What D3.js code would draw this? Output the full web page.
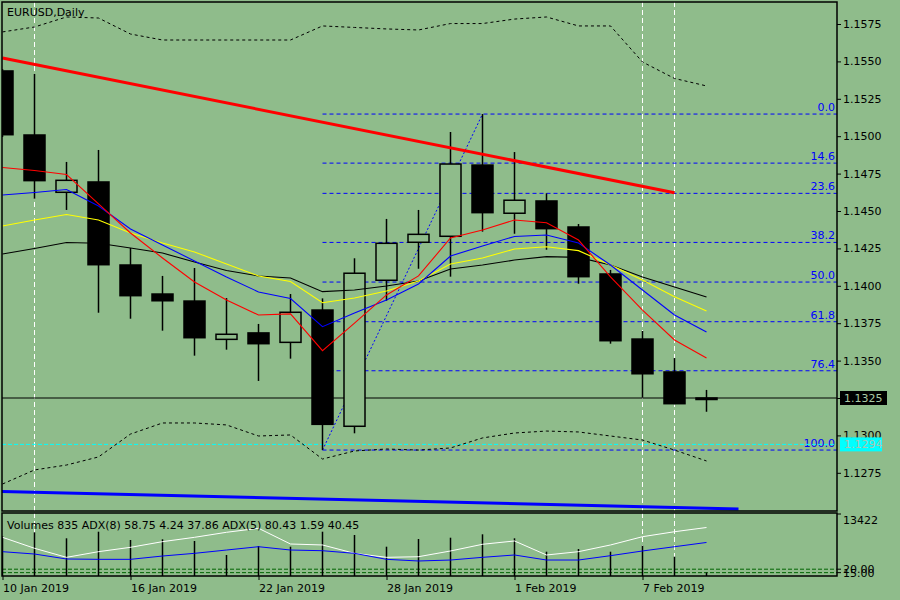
<!DOCTYPE html>
<html>
<head>
<meta charset="utf-8">
<script src="https://cdn.jsdelivr.net/npm/d3@7"></script>
<style>
  body { margin: 0; background: #8fbc8b; }
  svg text { font-family: "DejaVu Sans", sans-serif; font-size: 11px; }
</style>
</head>
<body>
<div id="chart"></div>
<script>
// EURUSD daily bars
const dates = ["10 Jan 2019","11 Jan 2019","14 Jan 2019","15 Jan 2019","16 Jan 2019","17 Jan 2019","18 Jan 2019",
  "21 Jan 2019","22 Jan 2019","23 Jan 2019","24 Jan 2019","25 Jan 2019","28 Jan 2019","29 Jan 2019","30 Jan 2019",
  "31 Jan 2019","1 Feb 2019","4 Feb 2019","5 Feb 2019","6 Feb 2019","7 Feb 2019","8 Feb 2019","11 Feb 2019"]
const open  = [1.15436,1.15008,1.14625,1.14694,1.14139,1.13945,1.13898,1.13642,1.13685,1.13622,1.13838,1.13061,
  1.14037,1.14291,1.14331,1.14807,1.14485,1.14567,1.14393,1.14079,1.13644,1.13424,1.13240]
const high  = [1.15450,1.15416,1.14828,1.14908,1.14253,1.14066,1.14119,1.13918,1.13745,1.13945,1.13916,1.14184,
  1.14447,1.14507,1.15028,1.15148,1.14894,1.14618,1.14413,1.14106,1.13698,1.13517,1.13304]
const low   = [1.14995,1.14582,1.14507,1.13820,1.13780,1.13700,1.13533,1.13573,1.13364,1.13513,1.12902,1.13014,
  1.13900,1.14114,1.14061,1.14362,1.14348,1.14241,1.14014,1.13613,1.13252,1.13208,1.13158]
const close = [1.15010,1.14703,1.14705,1.14141,1.13934,1.13900,1.13653,1.13676,1.13613,1.13823,1.13074,1.14084,
  1.14284,1.14344,1.14814,1.14489,1.14572,1.14382,1.14061,1.13633,1.13412,1.13212,1.13250]

// moving averages
const maRed    = [1.14791,1.14771,1.14744,1.14547,1.14353,1.14186,1.14025,1.13905,1.13805,1.13812,1.13566,1.13751,
  1.13939,1.14066,1.14320,1.14373,1.14440,1.14422,1.14306,1.14059,1.13838,1.13638,1.13517]
const maBlue   = [1.14607,1.14624,1.14644,1.14533,1.14380,1.14273,1.14166,1.14059,1.13959,1.13915,1.13727,1.13818,
  1.13905,1.14012,1.14199,1.14266,1.14330,1.14340,1.14286,1.14139,1.13972,1.13805,1.13691]
const maYellow = [1.14400,1.14440,1.14477,1.14440,1.14353,1.14286,1.14226,1.14146,1.14066,1.14029,1.13887,1.13918,
  1.13965,1.14032,1.14146,1.14186,1.14246,1.14261,1.14235,1.14139,1.14039,1.13927,1.13832]
const maBlack  = [1.14213,1.14249,1.14289,1.14284,1.14253,1.14219,1.14159,1.14102,1.14066,1.14052,1.13961,1.13972,
  1.13999,1.14032,1.14112,1.14139,1.14172,1.14195,1.14190,1.14139,1.14059,1.13992,1.13925]

// bollinger bands
const bandUpper = [1.15697,1.15730,1.15797,1.15790,1.15683,1.15643,1.15643,1.15643,1.15643,1.15643,1.15737,1.15727,
  1.15717,1.15710,1.15753,1.15753,1.15783,1.15797,1.15737,1.15737,1.15496,1.15386,1.15336]
const bandLower = [1.12675,1.12769,1.12802,1.12856,1.13009,1.13083,1.13083,1.13070,1.12996,1.13003,1.12842,1.12896,
  1.12909,1.12902,1.12916,1.12983,1.13016,1.13029,1.13023,1.12996,1.12969,1.12902,1.12829]

// indicator window
const volume  = [9500,10474,9036,10618,8628,8796,8389,5033,7190,7023,10618,9827,7023,8868,9180,9995,9036,5824,
  6471,5824,7262,4626,835]
const adxWhite = [66.2,50.3,37.2,45.4,51.7,59.9,66.2,73.5,79.3,56.5,55.1,43.0,37.2,38.1,46.4,56.1,60.9,40.6,45.4,
  55.1,67.1,74.3,80.43]
const adxBlue  = [45.4,42.0,34.8,34.3,34.3,39.1,43.0,47.8,52.6,47.8,46.8,43.0,34.3,31.9,33.3,37.2,40.6,33.3,33.3,
  39.6,46.4,52.6,58.75]
const adxLevels = [20, 15]

const priceTicks = [1.1575,1.1550,1.1525,1.1500,1.1475,1.1450,1.1425,1.1400,1.1375,1.1350,1.1325,1.1300,1.1275]
const dateTicks = [0,4,8,12,16,20]
const separators = [1,20,21]
const fibLevels = [0.0,14.6,23.6,38.2,50.0,61.8,76.4,100.0]
const fibFrom = {i:10, p:1.12902}
const fibTo   = {i:15, p:1.15148}
const redTrend  = [{i:0,p:1.15523},{i:21,p:1.14622}]
const blueTrend = [{i:-1,p:1.12630},{i:23,p:1.12508}]
const bid = 1.1325
const ask = 1.1294

var bg = "#8fbc8b"
var left = 2, right = 837, mainTop = 2, mainBottom = 511, subTop = 513, subBottom = 576

var svg = d3.select("#chart").append("svg").attr("width",900).attr("height",600)
svg.append("rect").attr("width",900).attr("height",600).attr("fill",bg)

var x = d3.scaleLinear().domain([0,22]).range([2.5,706.5])
var y = d3.scaleLinear().domain([1.1275,1.1575]).range([472.8,24])
var yVol = d3.scaleLinear().domain([0,13422]).range([subBottom,520])
var yAdx = d3.scaleLinear().domain([0,100]).range([583,514])

var defs = svg.append("defs")
defs.append("clipPath").attr("id","clipMain").append("rect")
  .attr("x",left).attr("y",mainTop).attr("width",right-left).attr("height",mainBottom-mainTop)
defs.append("clipPath").attr("id","clipSub").append("rect")
  .attr("x",left).attr("y",subTop).attr("width",right-left).attr("height",subBottom-subTop)

var g = svg.append("g").attr("clip-path","url(#clipMain)")
var gs = svg.append("g").attr("clip-path","url(#clipSub)")

// vertical white separators in both windows
g.selectAll(".sep").data(separators).enter().append("line")
  .attr("x1",d => x(d)).attr("x2",d => x(d)).attr("y1",mainTop).attr("y2",mainBottom)
  .attr("stroke","#fff").attr("stroke-dasharray","5,3")
gs.selectAll(".sep").data(separators).enter().append("line")
  .attr("x1",d => x(d)).attr("x2",d => x(d)).attr("y1",subTop).attr("y2",subBottom)
  .attr("stroke","#fff").attr("stroke-dasharray","5,3")

// fibo retracement
var fibPrice = lv => fibTo.p - (fibTo.p - fibFrom.p) * lv / 100
g.selectAll(".fib").data(fibLevels).enter().append("line")
  .attr("x1",x(fibFrom.i)).attr("x2",right).attr("y1",d => y(fibPrice(d))).attr("y2",d => y(fibPrice(d)))
  .attr("stroke","#0000ff").attr("stroke-dasharray","4,3")
g.append("line").attr("x1",x(fibFrom.i)).attr("y1",y(fibFrom.p)).attr("x2",x(fibTo.i)).attr("y2",y(fibTo.p))
  .attr("stroke","#0000ff").attr("stroke-dasharray","2,2")
g.selectAll(".fibText").data(fibLevels).enter().append("text")
  .attr("x",835).attr("y",d => y(fibPrice(d)) - 3).attr("text-anchor","end")
  .attr("fill","#0000ff").text(d => d.toFixed(1))

// bid / ask lines
g.append("line").attr("x1",left).attr("x2",right).attr("y1",y(ask)).attr("y2",y(ask))
  .attr("stroke","#00ffff").attr("stroke-dasharray","4,2")
g.append("line").attr("x1",left).attr("x2",right).attr("y1",y(bid)).attr("y2",y(bid))
  .attr("stroke","#000").attr("stroke-width",1.2)

// bollinger bands
function series(arr){ return d3.line().x((d,i) => x(i)).y(d => y(d))(arr) }
;[bandUpper, bandLower].forEach(b => {
  g.append("path").attr("d",series(b)).attr("fill","none")
    .attr("stroke","#000").attr("stroke-dasharray","3,3")
})

// candles
var idx = d3.range(dates.length)
g.selectAll(".wick").data(idx).enter().append("line")
  .attr("x1",i => x(i)).attr("x2",i => x(i)).attr("y1",i => y(high[i])).attr("y2",i => y(low[i]))
  .attr("stroke","#000").attr("stroke-width",1.5)
g.selectAll(".body").data(idx).enter().append("rect")
  .attr("x",i => x(i) - 10.5)
  .attr("y",i => y(Math.max(open[i],close[i])))
  .attr("width",21)
  .attr("height",i => Math.max(1, y(Math.min(open[i],close[i])) - y(Math.max(open[i],close[i]))))
  .attr("fill",i => close[i] < open[i] ? "#000" : bg)
  .attr("stroke","#000").attr("stroke-width",1.5)

// moving averages on top
;[[maBlack,"#000"],[maYellow,"#ffff00"],[maBlue,"#0000ff"],[maRed,"#ff0000"]].forEach(m => {
  g.append("path").attr("d",series(m[0])).attr("fill","none").attr("stroke",m[1]).attr("stroke-width",1.1)
})

// trend lines
var tl = d3.line().x(d => x(d.i)).y(d => y(d.p))
g.append("path").attr("d",tl(redTrend)).attr("stroke","#ff0000").attr("stroke-width",3).attr("fill","none")
g.append("path").attr("d",tl(blueTrend)).attr("stroke","#0000ff").attr("stroke-width",3).attr("fill","none")

// title
svg.append("text").attr("x",7).attr("y",16).text("EURUSD,Daily")

// indicator window
gs.selectAll(".lvl").data(adxLevels).enter().append("line")
  .attr("x1",left).attr("x2",right).attr("y1",d => yAdx(d)).attr("y2",d => yAdx(d))
  .attr("stroke","#006400").attr("stroke-dasharray","4,2")
gs.selectAll(".vol").data(idx).enter().append("line")
  .attr("x1",i => x(i)).attr("x2",i => x(i)).attr("y1",yVol(0)).attr("y2",i => yVol(volume[i]))
  .attr("stroke","#000").attr("stroke-width",1.5)
var adxLine = d3.line().x((d,i) => x(i)).y(d => yAdx(d))
gs.append("path").attr("d",adxLine(adxWhite)).attr("fill","none").attr("stroke","#fff")
gs.append("path").attr("d",adxLine(adxBlue)).attr("fill","none").attr("stroke","#0000ff")
svg.append("text").attr("x",7).attr("y",529)
  .text("Volumes 835 ADX(8) 58.75 4.24 37.86 ADX(5) 80.43 1.59 40.45")

// frames
svg.append("rect").attr("x",left).attr("y",mainTop).attr("width",right-left).attr("height",mainBottom-mainTop)
  .attr("fill","none").attr("stroke","#000").attr("stroke-width",1.5)
svg.append("rect").attr("x",left).attr("y",subTop).attr("width",right-left).attr("height",subBottom-subTop)
  .attr("fill","none").attr("stroke","#000").attr("stroke-width",1.5)

// price axis
var yAxis = svg.append("g").attr("transform","translate(" + right + ",0)")
  .call(d3.axisRight(y).tickValues(priceTicks).tickFormat(d3.format(".4f")).tickSize(4).tickPadding(2))
yAxis.select(".domain").remove()
yAxis.selectAll("text").attr("fill","#000").style("font-family","DejaVu Sans").style("font-size","11px")

// indicator axis
var subAxis = svg.append("g").attr("transform","translate(" + right + ",0)")
subAxis.append("line").attr("x1",0).attr("x2",4).attr("y1",514).attr("y2",514).attr("stroke","#000")
subAxis.append("text").attr("x",6).attr("y",520).attr("dy","0.35em").text("13422")
subAxis.selectAll(".lv").data(adxLevels).enter().append("line")
  .attr("x1",0).attr("x2",4).attr("y1",d => yAdx(d)).attr("y2",d => yAdx(d)).attr("stroke","#000")
subAxis.selectAll(".lvt").data(adxLevels).enter().append("text")
  .attr("x",6).attr("y",d => yAdx(d)).attr("dy","0.35em").text(d => d.toFixed(2))

// bid / ask labels
var labels = [[bid,"#000",47],[ask,"#00ffff",42]]
labels.forEach(l => {
  svg.append("rect").attr("x",840).attr("y",y(l[0]) - 7).attr("width",l[2]).attr("height",14).attr("fill",l[1])
  svg.append("text").attr("x",844).attr("y",y(l[0])).attr("dy","0.35em")
    .attr("fill",l[1] == "#000" ? "#a9c9a4" : "#a8c4b0").text(l[0].toFixed(4))
})

// date axis
var xAxis = svg.append("g").attr("transform","translate(0," + subBottom + ")")
  .call(d3.axisBottom(x).tickValues(dateTicks).tickFormat(i => dates[i]).tickSize(4).tickPadding(4))
xAxis.select(".domain").remove()
xAxis.selectAll("text").attr("text-anchor","start").attr("fill","#000")
  .style("font-family","DejaVu Sans").style("font-size","11px")
</script>
</body>
</html>
